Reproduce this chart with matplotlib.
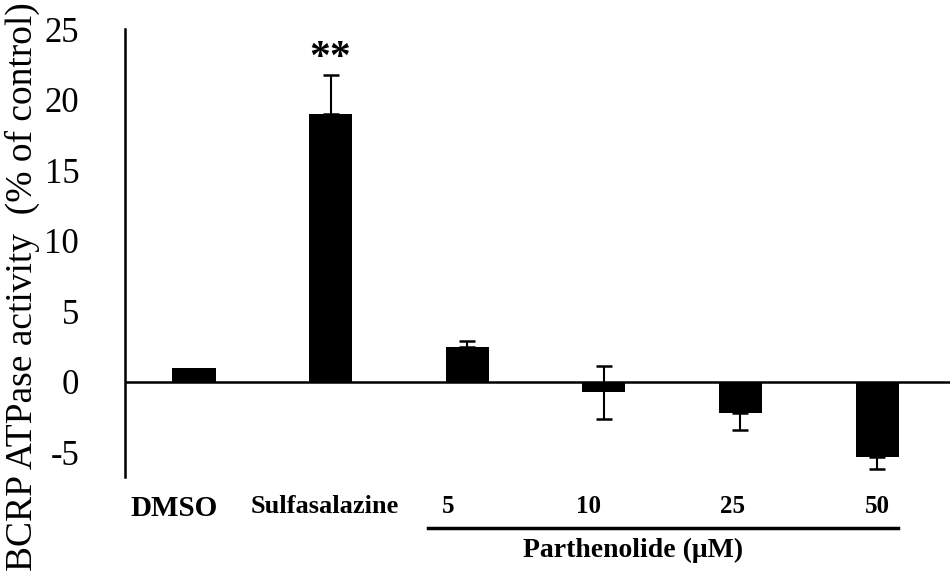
import matplotlib
matplotlib.use("Agg")
import matplotlib.pyplot as plt
import matplotlib.transforms as mtransforms
import numpy as np

categories = ["DMSO", "Sulfasalazine", "5", "10", "25", "50"]
values = [1.0, 19.0, 2.45, -0.75, -2.2, -5.3]
err_lower = [0.0, 0.0, 0.0, 1.87, 1.25, 0.9]
err_upper = [0.0, 2.75, 0.45, 1.87, 0.0, 0.0]
yticks = [-5, 0, 5, 10, 15, 20, 25]
signif = ["", "**", "", "", "", ""]
group_label = "Parthenolide (μM)"
group_members = [2, 3, 4, 5]
ylabel = "BCRP ATPase activity  (% of control)"

plt.rcParams['font.family'] = ['Liberation Serif', 'DejaVu Serif']

fig = plt.figure(figsize=(9.5, 5.75), dpi=100)
ax = fig.add_axes([125/950, 1-477/575, 1-125/950, (477-29)/575])

x = np.arange(len(categories))
has_err = [i for i in range(len(x)) if err_lower[i] > 0 or err_upper[i] > 0]
ax.bar(x, values, width=0.315, color='black', zorder=2)
ax.errorbar(x[has_err], np.array(values)[has_err],
            yerr=[np.array(err_lower)[has_err], np.array(err_upper)[has_err]],
            fmt='none', ecolor='black', elinewidth=1.5, capsize=5.5, capthick=1.8, zorder=3)
ax.axhline(0, color='black', lw=1.8, zorder=1)

ax.set_xlim(-0.505, 5.534)
ax.set_ylim(-6.75, 25)
ax.set_yticks(yticks)
ax.set_yticklabels([str(t) for t in yticks], fontsize=25)
ax.tick_params(axis='y', length=0, pad=33)
for s in ['top', 'right', 'bottom']:
    ax.spines[s].set_visible(False)
ax.spines['left'].set_linewidth(1.8)

# x category labels
ax.set_xticks(x)
ax.set_xticklabels(categories, fontweight='bold', family='Liberation Serif')
ax.tick_params(axis='x', length=0, pad=13)
label_sizes = [21, 19, 18, 18, 18, 18]
label_shift = [-20, -6, -19, -15, -8, 0]
for lab, fs, dx in zip(ax.get_xticklabels(), label_sizes, label_shift):
    lab.set_fontsize(fs)
    lab.set_transform(lab.get_transform() + mtransforms.ScaledTranslation(dx/100, 0, fig.dpi_scale_trans))

# significance markers
for i, s in enumerate(signif):
    if s:
        ax.text(x[i], values[i] + err_upper[i] + 1.1, s, ha='center', va='center',
                fontsize=30, fontweight='bold')

# group bracket line and label
trans = mtransforms.blended_transform_factory(ax.transData, ax.transAxes)
gx0 = group_members[0] - 0.287
gx1 = group_members[-1] + 0.154
ax.plot([gx0, gx1], [-0.114, -0.114], color='black', lw=2.5, transform=trans, clip_on=False)
ax.text((gx0 + gx1) / 2 - 0.22, -0.163, group_label, transform=trans, ha='center', va='center',
        fontsize=20, fontweight='bold', family='Liberation Serif')

fig.text(22/950, 1-287/575, ylabel, rotation=90, ha='center', va='center', fontsize=27)

fig.savefig("out.png", dpi=100)
